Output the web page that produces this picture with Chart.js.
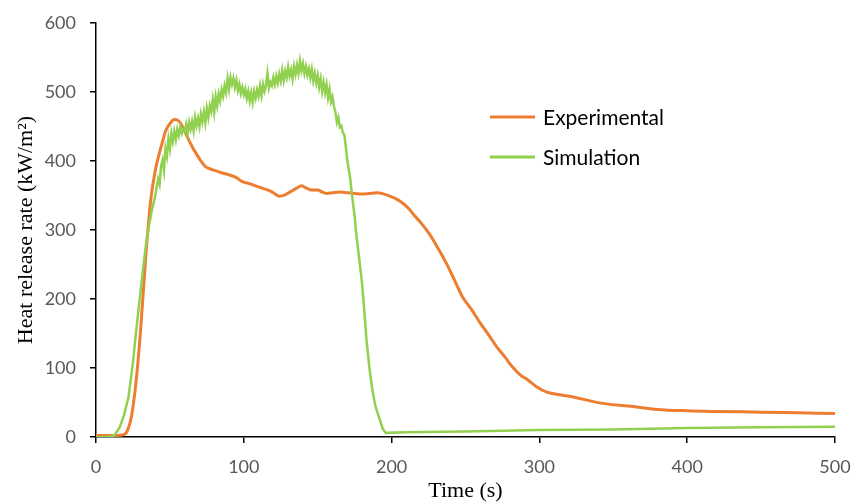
<!DOCTYPE html>
<html>
<head>
<meta charset="utf-8">
<title>Heat release rate</title>
<script src="https://cdn.jsdelivr.net/npm/chart.js@4/dist/chart.umd.min.js"></script>
<style>
  html, body { margin: 0; padding: 0; background: #fff; }
  #wrap { width: 851px; height: 504px; position: relative; }
</style>
</head>
<body>
<div id="wrap"><canvas id="hrrChart"></canvas></div>
<script>
// Experimental curve
var expTime = [0, 10, 18, 21, 24, 27, 30, 34, 37, 40, 42, 45, 47, 50, 53, 56, 59, 62, 65, 68,
  71, 74, 78, 81, 85, 90, 95, 99, 104, 108, 112, 116, 120, 124, 128, 132, 136, 139, 142, 146,
  150, 153, 156, 160, 165, 170, 175, 180, 185, 190, 195, 200, 204, 208, 212, 215, 220, 226, 231, 237,
  242, 248, 254, 260, 266, 271, 277, 282, 287, 292, 298, 305, 315, 325, 335, 345, 360, 380, 400, 420,
  450, 475, 500];
var expHrr = [2, 2, 3, 8, 30, 78, 150, 271, 343, 385, 404, 428, 443, 454, 460, 458, 448, 434, 421, 410,
  400, 392, 388, 386, 383, 380, 376, 370, 367, 364, 361, 358, 354, 349, 351, 356, 361, 364, 361, 358,
  358, 355, 353, 354, 355, 354, 353, 352, 353, 354, 352, 348, 344, 338, 330, 322, 310, 293, 275, 252,
  230, 203, 185, 165, 147, 131, 115, 101, 90, 83, 73, 65, 61, 57, 52, 48, 45, 40, 38, 37,
  36, 35, 34];

// Simulation curve (noisy plateau typed in by hand)
var simTime = [0, 8, 11, 13, 16, 19, 22, 25, 27, 30, 32, 34, 36, 38, 40, 41, 42, 43, 44, 45,
  46, 47, 48, 49, 50, 51, 52, 53, 54, 55, 56, 57, 58, 59, 60, 61, 62, 63, 64, 65,
  66, 67, 68, 69, 70, 71, 72, 73, 74, 75, 76, 77, 78, 79, 80, 81, 82, 83, 84, 85,
  86, 87, 88, 89, 90, 91, 92, 93, 94, 95, 96, 97, 98, 99, 100, 101, 102, 103, 104, 105,
  106, 107, 108, 109, 110, 111, 112, 113, 114, 115, 116, 117, 118, 119, 120, 121, 122, 123, 124, 125,
  126, 127, 128, 129, 130, 131, 132, 133, 134, 135, 136, 137, 138, 139, 140, 141, 142, 143, 144, 145,
  146, 147, 148, 149, 150, 151, 152, 153, 154, 155, 156, 157, 158, 159, 160, 161, 162, 163, 164, 165,
  166, 167, 168, 169, 170, 172, 173, 175, 176, 178, 180, 182, 183, 185, 187, 189, 192, 194, 196, 210,
  250, 300, 350, 400, 450, 500];
var simHrr = [0, 0, 1, 4, 14, 32, 58, 108, 150, 208, 246, 282, 308, 331, 348, 362, 374, 366, 392, 401,
  386, 418, 407, 432, 418, 440, 428, 443, 431, 446, 437, 449, 440, 446, 442, 453, 440, 456, 446, 457,
  444, 463, 451, 462, 450, 468, 457, 471, 456, 476, 463, 480, 472, 489, 471, 493, 480, 497, 487, 503,
  494, 509, 499, 519, 504, 521, 511, 520, 507, 517, 502, 511, 498, 507, 496, 504, 491, 501, 487, 499,
  485, 501, 491, 503, 494, 509, 495, 511, 501, 509, 527, 506, 514, 509, 521, 511, 523, 513, 526, 516,
  531, 517, 530, 521, 536, 523, 532, 519, 537, 526, 539, 527, 545, 531, 541, 527, 537, 525, 534, 521,
  533, 516, 527, 513, 524, 507, 519, 501, 514, 499, 511, 492, 504, 486, 493, 479, 471, 456, 463, 449,
  451, 441, 438, 421, 401, 375, 354, 320, 296, 260, 223, 170, 141, 100, 68, 45, 25, 12, 6, 7,
  8, 10, 11, 13, 14, 15];

var xTicks = [0, 100, 200, 300, 400, 500];
var yTicks = [0, 100, 200, 300, 400, 500, 600];

var seriesNames = ["Experimental", "Simulation"];
var seriesColors = ["#ed7d31", "#92d050"];

function toPoints(xs, ys) {
  var pts = [];
  for (var i = 0; i < xs.length; i++) {
    pts.push({ x: xs[i], y: ys[i] });
  }
  return pts;
}

// Legend sits inside the plot, drawn by hand like the Excel one
var insideLegend = {
  id: 'insideLegend',
  afterDraw: function(chart) {
    var ctx = chart.ctx;
    var rows = [117, 157];
    ctx.save();
    for (var i = 0; i < seriesNames.length; i++) {
      ctx.strokeStyle = seriesColors[i];
      ctx.lineWidth = 3;
      ctx.beginPath();
      ctx.moveTo(490, rows[i]);
      ctx.lineTo(535, rows[i]);
      ctx.stroke();
      ctx.fillStyle = '#000';
      ctx.font = '21px Lato';
      ctx.textBaseline = 'middle';
      ctx.textAlign = 'left';
      ctx.fillText(seriesNames[i], 543, rows[i] + 1);
    }
    ctx.restore();
  }
};

var tickFont = { family: 'Lato', size: 18 };
var titleFont = { family: '"Liberation Serif", "DejaVu Serif", serif', size: 22 };

new Chart(document.getElementById('hrrChart'), {
  type: 'line',
  data: {
    datasets: [{
      label: seriesNames[0],
      data: toPoints(expTime, expHrr),
      borderColor: seriesColors[0],
      borderWidth: 3,
      pointRadius: 0,
      cubicInterpolationMode: 'monotone',
      order: 1
    }, {
      label: seriesNames[1],
      data: toPoints(simTime, simHrr),
      borderColor: seriesColors[1],
      borderWidth: 2.5,
      pointRadius: 0,
      tension: 0,
      order: 0
    }]
  },
  options: {
    responsive: true,
    maintainAspectRatio: false,
    animation: false,
    layout: { padding: { left: 0, right: 16, top: 23, bottom: 0 } },
    plugins: {
      legend: { display: false },
      tooltip: { enabled: false }
    },
    scales: {
      x: {
        type: 'linear',
        min: 0,
        max: 500,
        afterFit: function(scale) {
          scale.height = 67;
          scale.paddingLeft = 0;
          scale.paddingRight = 0;
        },
        afterBuildTicks: function(scale) {
          scale.ticks = xTicks.map(function(v) { return { value: v }; });
        },
        ticks: { color: '#595959', font: tickFont, padding: 13, maxRotation: 0 },
        grid: { display: true, drawOnChartArea: false, drawTicks: true, tickLength: 6, color: '#000', lineWidth: 1.5 },
        border: { display: true, color: '#000', width: 1.5 },
        title: { display: true, text: 'Time (s)', color: '#000', font: titleFont, padding: { top: 0, bottom: 0 } }
      },
      y: {
        type: 'linear',
        min: 0,
        max: 600,
        afterFit: function(scale) {
          scale.width = 96;
          scale.paddingTop = 0;
          scale.paddingBottom = 0;
        },
        afterBuildTicks: function(scale) {
          scale.ticks = yTicks.map(function(v) { return { value: v }; });
        },
        ticks: { color: '#595959', font: tickFont, padding: 14 },
        grid: { display: true, drawOnChartArea: false, drawTicks: true, tickLength: 6, color: '#000', lineWidth: 1.5 },
        border: { display: true, color: '#000', width: 1.5 },
        title: { display: true, text: 'Heat release rate (kW/m²)', color: '#000', font: titleFont, padding: { top: 13, bottom: 0 } }
      }
    }
  },
  plugins: [insideLegend]
});
</script>
</body>
</html>
